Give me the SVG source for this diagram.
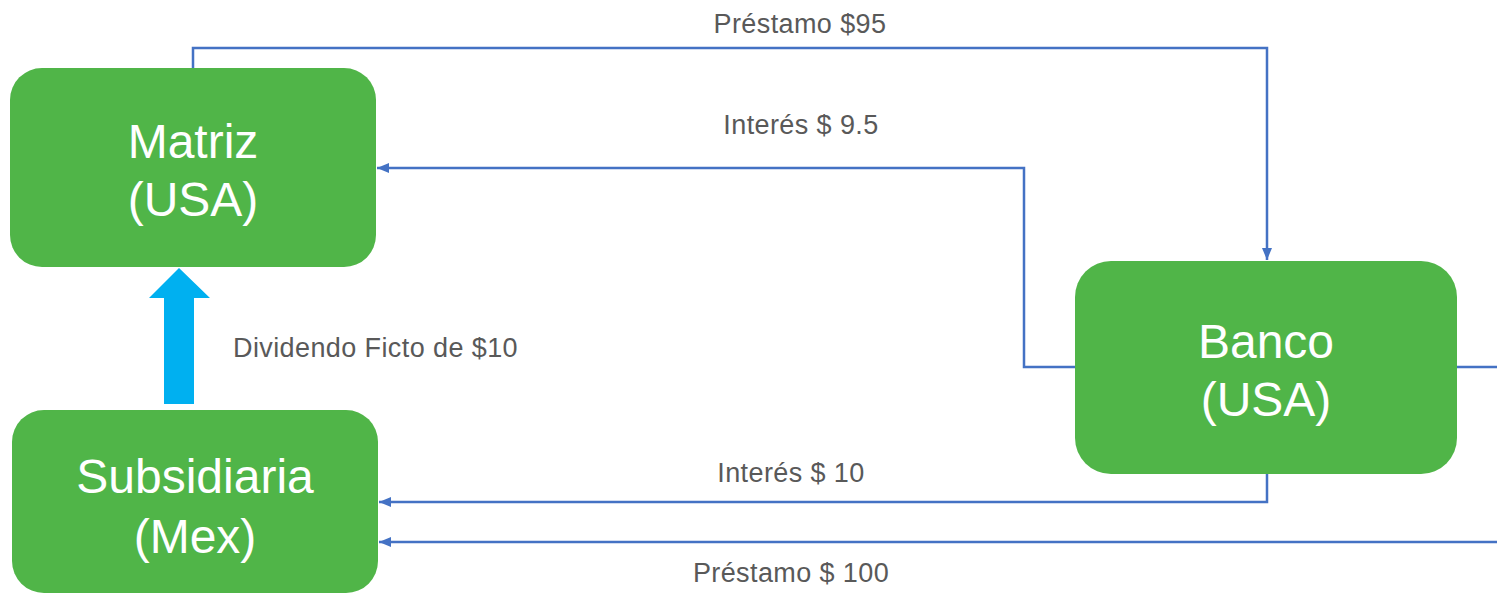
<svg xmlns="http://www.w3.org/2000/svg" width="1497" height="593" viewBox="0 0 1497 593">
<style>
.box{fill:#50B548}
.big{font-family:"Liberation Sans",Arial,sans-serif;font-size:48px;fill:#fff;text-anchor:middle}
.lbl{font-family:"Liberation Sans",Arial,sans-serif;font-size:27px;letter-spacing:0.4px;fill:#595959}
.c{fill:none;stroke:#4472C4;stroke-width:2.5}
</style>
<defs>
<marker id="ah" viewBox="0 0 12 10" refX="12" refY="5" markerWidth="12" markerHeight="10" markerUnits="userSpaceOnUse" orient="auto">
<path d="M0,0 L12,5 L0,10 Z" fill="#4472C4"/>
</marker>
</defs>
<rect width="1497" height="593" fill="#fff"/>
<g id="connectors">
<path class="c" d="M193,68 V48 H1267 V260" marker-end="url(#ah)"/>
<path class="c" d="M1075,367 H1024 V168 H377" marker-end="url(#ah)"/>
<path class="c" d="M1267,474 V502 H379" marker-end="url(#ah)"/>
<path class="c" d="M1457,367 H1510 V542 H379" marker-end="url(#ah)"/>
<polygon id="dividend-arrow" points="164,404 194,404 194,298 210,298 179,268 149,298 164,298" fill="#00B0F0"/>
</g>
<g id="labels">
<text class="lbl" x="800" y="33" text-anchor="middle">Préstamo $95</text>
<text class="lbl" x="801" y="134" text-anchor="middle">Interés $ 9.5</text>
<text class="lbl" x="233" y="357">Dividendo Ficto de $10</text>
<text class="lbl" x="791" y="482" text-anchor="middle">Interés $ 10</text>
<text class="lbl" x="791" y="582" text-anchor="middle">Préstamo $ 100</text>
</g>
<g id="matriz">
<rect class="box" x="10" y="68" width="366" height="199" rx="32"/>
<text class="big" x="193" y="158">Matriz</text>
<text class="big" x="193" y="216">(USA)</text>
</g>
<g id="banco">
<rect class="box" x="1075" y="261" width="382" height="213" rx="36"/>
<text class="big" x="1266" y="358">Banco</text>
<text class="big" x="1266" y="416">(USA)</text>
</g>
<g id="subsidiaria">
<rect class="box" x="12" y="410" width="366" height="183" rx="32"/>
<text class="big" x="195" y="493">Subsidiaria</text>
<text class="big" x="195" y="553">(Mex)</text>
</g>
</svg>
